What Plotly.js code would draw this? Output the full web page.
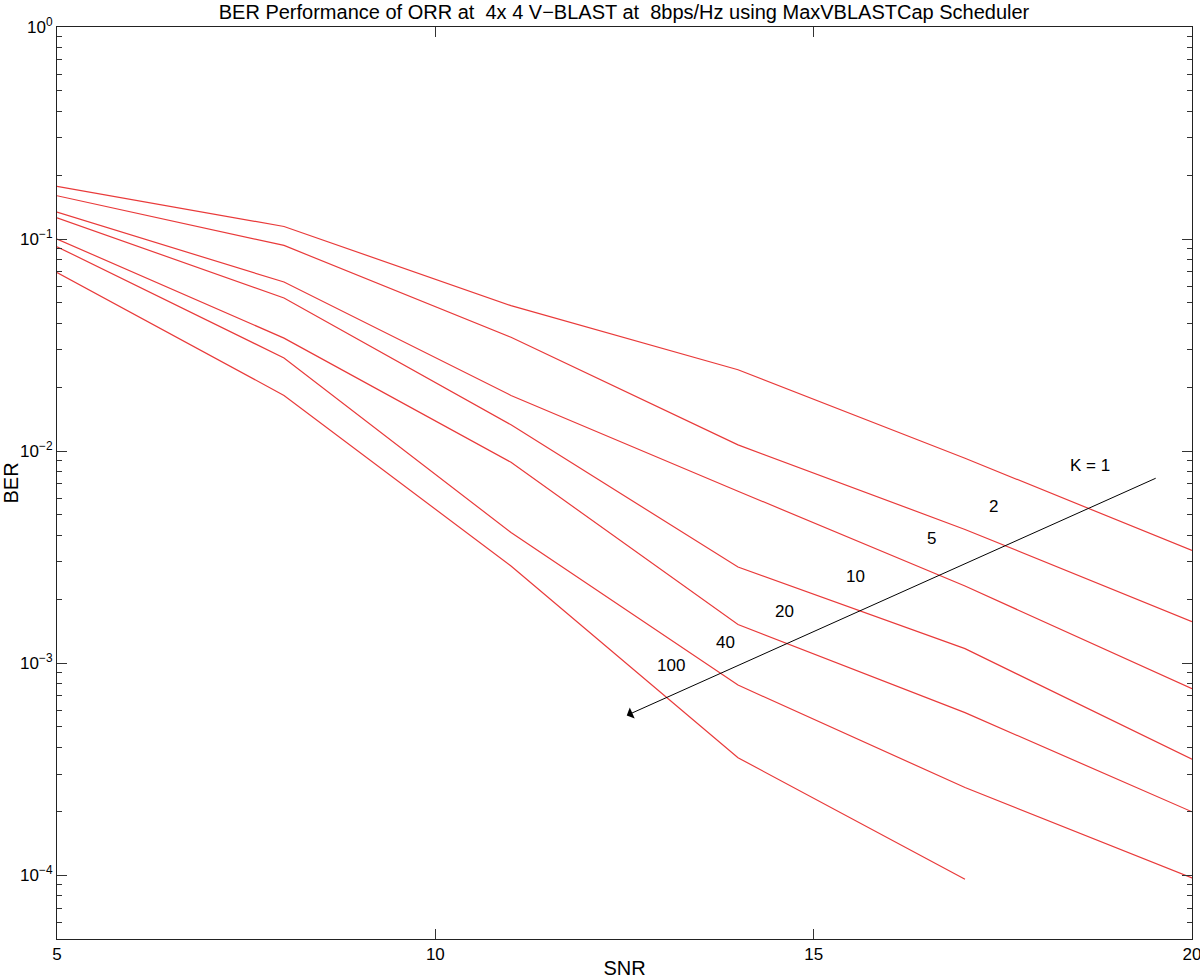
<!DOCTYPE html>
<html>
<head>
<meta charset="utf-8">
<script src="https://cdn.plot.ly/plotly-3.0.1.min.js"></script>
<style>
  body { margin: 0; background: #fff; }
  #chart { width: 1200px; height: 979px; }
</style>
</head>
<body>
<div id="chart"></div>
<script>
// SNR points and BER for each number of users K
var snr = [5, 8, 11, 14, 17, 20];
var berK1 = [0.177, 0.1146, 0.0485, 0.0242, 0.00925, 0.0034];
var berK2 = [0.16, 0.0933, 0.0344, 0.0107, 0.00427, 0.00157];
var berK5 = [0.134, 0.0627, 0.0183, 0.00647, 0.00231, 0.000758];
var berK10 = [0.126, 0.0527, 0.0133, 0.00284, 0.00117, 0.000352];
var berK20 = [0.1, 0.0341, 0.00885, 0.00152, 0.000584, 0.000199];
var berK40 = [0.092, 0.0275, 0.00413, 0.000788, 0.000259, 0.000097];
var berK100 = [0.0695, 0.0183, 0.00287, 0.000358, 0.0000957];

var kLabels = ['K = 1', '2', '5', '10', '20', '40', '100'];
var kLabelX = [18.65, 17.38, 16.56, 15.55, 14.62, 13.84, 13.11];
var kLabelY = [0.00855, 0.00547, 0.00387, 0.00256, 0.00175, 0.00125, 0.000976];

// arrow from K = 1 towards K = 100
var arrowFrom = [19.54, 0.0075];
var arrowTo = [12.53, 0.000567];

var yTickVals = [1e-4, 1e-3, 1e-2, 1e-1, 1];
var yTickText = ['10<sup>−4</sup>', '10<sup>−3</sup>', '10<sup>−2</sup>', '10<sup>−1</sup>', '10<sup>0</sup>'];

var allBer = [berK1, berK2, berK5, berK10, berK20, berK40, berK100];
var traces = allBer.map(function (ber, i) {
    return {
        x: snr.slice(0, ber.length),
        y: ber,
        mode: 'lines',
        name: kLabels[i],
        line: { color: '#e93a3a', width: 1.2 },
        hoverinfo: 'x+y'
    };
});

var annotations = kLabels.map(function (t, i) {
    return {
        x: kLabelX[i],
        y: Math.log10(kLabelY[i]),
        xref: 'x',
        yref: 'y',
        text: t,
        showarrow: false,
        font: { size: 17, color: '#000' }
    };
});

annotations.push({
    x: arrowTo[0],
    y: Math.log10(arrowTo[1]),
    ax: arrowFrom[0],
    ay: Math.log10(arrowFrom[1]),
    xref: 'x', yref: 'y', axref: 'x', ayref: 'y',
    text: '',
    showarrow: true,
    arrowhead: 1,
    arrowsize: 2,
    arrowwidth: 1,
    arrowcolor: '#000'
});

var tickFont = { family: 'Liberation Sans, Arial, sans-serif', size: 17, color: '#000' };

var layout = {
    width: 1200,
    height: 979,
    margin: { l: 57, r: 8, t: 27, b: 40 },
    paper_bgcolor: '#fff',
    plot_bgcolor: '#fff',
    font: { family: 'Liberation Sans, Arial, sans-serif', color: '#000' },
    title: {
        text: 'BER Performance of ORR at  4x 4 V−BLAST at  8bps/Hz using MaxVBLASTCap Scheduler',
        font: { size: 20 },
        x: 0.52,
        xanchor: 'center',
        y: 0.988,
        yanchor: 'middle'
    },
    showlegend: false,
    xaxis: {
        title: { text: 'SNR', font: { size: 20 }, standoff: 4 },
        range: [5, 20],
        tickvals: [5, 10, 15, 20],
        ticks: 'inside',
        ticklen: 10,
        tickcolor: '#333',
        tickfont: tickFont,
        ticklabeloverflow: 'allow',
        showline: true,
        linecolor: '#222',
        mirror: 'ticks',
        showgrid: false,
        zeroline: false
    },
    yaxis: {
        title: { text: 'BER', font: { size: 20 }, standoff: 2 },
        type: 'log',
        range: [Math.log10(5e-5), 0],
        tickvals: yTickVals,
        ticktext: yTickText,
        ticks: 'inside',
        ticklen: 10,
        tickcolor: '#333',
        tickfont: tickFont,
        ticklabeloverflow: 'allow',
        minor: { ticks: 'inside', ticklen: 5, tickcolor: '#333', dtick: 'D1', showgrid: false },
        showline: true,
        linecolor: '#222',
        mirror: 'ticks',
        showgrid: false,
        zeroline: false
    },
    annotations: annotations
};

Plotly.newPlot('chart', traces, layout, { displayModeBar: false, staticPlot: true });
</script>
</body>
</html>
